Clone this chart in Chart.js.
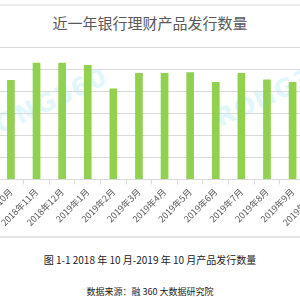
<!DOCTYPE html>
<html><head><meta charset="utf-8">
<script src="https://cdn.jsdelivr.net/npm/chart.js@4/dist/chart.umd.min.js"></script>
<style>
html,body{margin:0;padding:0;background:#fff;}
body{width:300px;height:300px;position:relative;overflow:hidden;font-family:"Noto Sans CJK SC","Noto Sans",sans-serif;}
.band{position:absolute;left:0;width:300px;background:#ececec;}
#title{position:absolute;left:0;width:300px;top:13px;text-align:center;font-size:15px;color:#595959;line-height:20px;}
.wm{position:absolute;font-family:"DejaVu Sans",sans-serif;font-weight:bold;font-size:25px;line-height:25px;color:#e2f7fd;letter-spacing:1px;transform-origin:0 100%;white-space:nowrap;}
#wrap{position:absolute;left:-24.6px;top:47px;width:356px;height:183px;}
.cap{position:absolute;left:0;width:300px;text-align:center;color:#222;}
</style></head>
<body>
<div class="band" style="top:4px;height:2px;"></div>
<div id="title">近一年银行理财产品发行数量</div>
<div class="wm" style="left:-17px;top:121px;transform:rotate(-25deg);">RONG360</div>
<div class="wm" style="left:222px;top:106px;transform:rotate(-25deg);">RONG360</div>
<div id="wrap"><canvas id="c"></canvas></div>
<div class="band" style="top:236px;height:1.5px;background:#e6e6e6;"></div>
<div class="cap" style="top:252px;font-size:10px;line-height:16px;">图 1-1 2018 年 10 月-2019 年 10 月产品发行数量</div>
<div class="cap" style="top:284px;font-size:9px;line-height:16px;">数据来源：融 360 大数据研究院</div>
<script>
const categories = ["2018年10月","2018年11月","2018年12月","2019年1月","2019年2月","2019年3月","2019年4月","2019年5月","2019年6月","2019年7月","2019年8月","2019年9月","2019年10月"];
const issued = [4500,5290,5290,5180,4120,4820,4820,4860,4420,4820,4530,4420,4600];
const yMax = 6000;
const yStep = 1000;

const chart = new Chart(document.getElementById('c'), {
  type: 'bar',
  data: { labels: categories, datasets: [{ data: issued, backgroundColor: '#92d050', barPercentage: 0.6, categoryPercentage: 0.5 }] },
  options: {
    responsive: true, maintainAspectRatio: false, animation: false,
    layout: { padding: 0 },
    plugins: { legend: { display: false }, tooltip: { enabled: false } },
    scales: {
      x: {
        offset: true,
        grid: { offset: true, drawOnChartArea: false, drawTicks: true, tickLength: 5, color: '#d9d9d9' },
        border: { color: '#d9d9d9' },
        ticks: { autoSkip: false, minRotation: 45, maxRotation: 45, padding: 2, color: '#595959', font: { family: '"Noto Sans CJK SC"', size: 9 } }
      },
      y: {
        min: 0, max: yMax,
        ticks: { display: false, stepSize: yStep },
        grid: { color: '#d9d9d9', drawTicks: false },
        border: { display: false }
      }
    }
  }
});
</script>
</body></html>
